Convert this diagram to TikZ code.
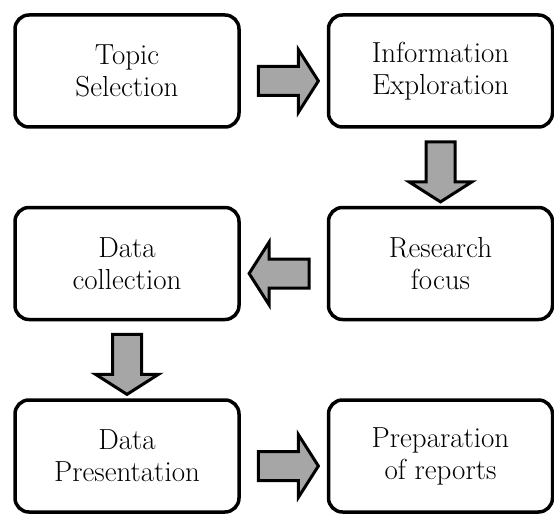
\documentclass[tikz,border=0pt]{standalone}
\usetikzlibrary{positioning,shapes.arrows,calc}

\begin{document}
\begin{tikzpicture}[
  node distance=77pt and 86pt,
  stage/.style={draw,line width=3.5pt,rounded corners=14pt,minimum width=224pt,
    minimum height=112pt,align=center,font=\fontsize{29}{32}\selectfont},
  fatarrow/.style={single arrow,draw,line width=3pt,fill=black!35,inner sep=13pt,
    minimum height=60pt,single arrow head extend=17pt,single arrow tip angle=115}
]
  \useasboundingbox (0,0) rectangle (554pt,-516pt);

  \node[stage] (topic) at (127pt,-71pt) {Topic\\Selection};
  \node[stage,right=of topic] (explore) {Information\\Exploration};
  \node[stage,below=of explore] (focus) {Research\\focus};
  \node[stage,below=of topic] (collect) {Data\\collection};
  \node[stage,below=of collect] (present) {Data\\Presentation};
  \node[stage,right=of present] (report) {Preparation\\of reports};

  % block arrows sit halfway between the boxes
  \node[fatarrow,yshift=-10pt] (a1) at ($(topic.east)!.5!(explore.west)$) {};
  \node[fatarrow,shape border rotate=270] (a2) at ($(explore.south)!.5!(focus.north)$) {};
  \node[fatarrow,shape border rotate=180,yshift=-10pt] (a3) at ($(focus.west)!.5!(collect.east)$) {};
  \node[fatarrow,shape border rotate=270] (a4) at ($(collect.south)!.5!(present.north)$) {};
  \node[fatarrow,yshift=-10pt] (a5) at ($(present.east)!.5!(report.west)$) {};
\end{tikzpicture}
\end{document}
